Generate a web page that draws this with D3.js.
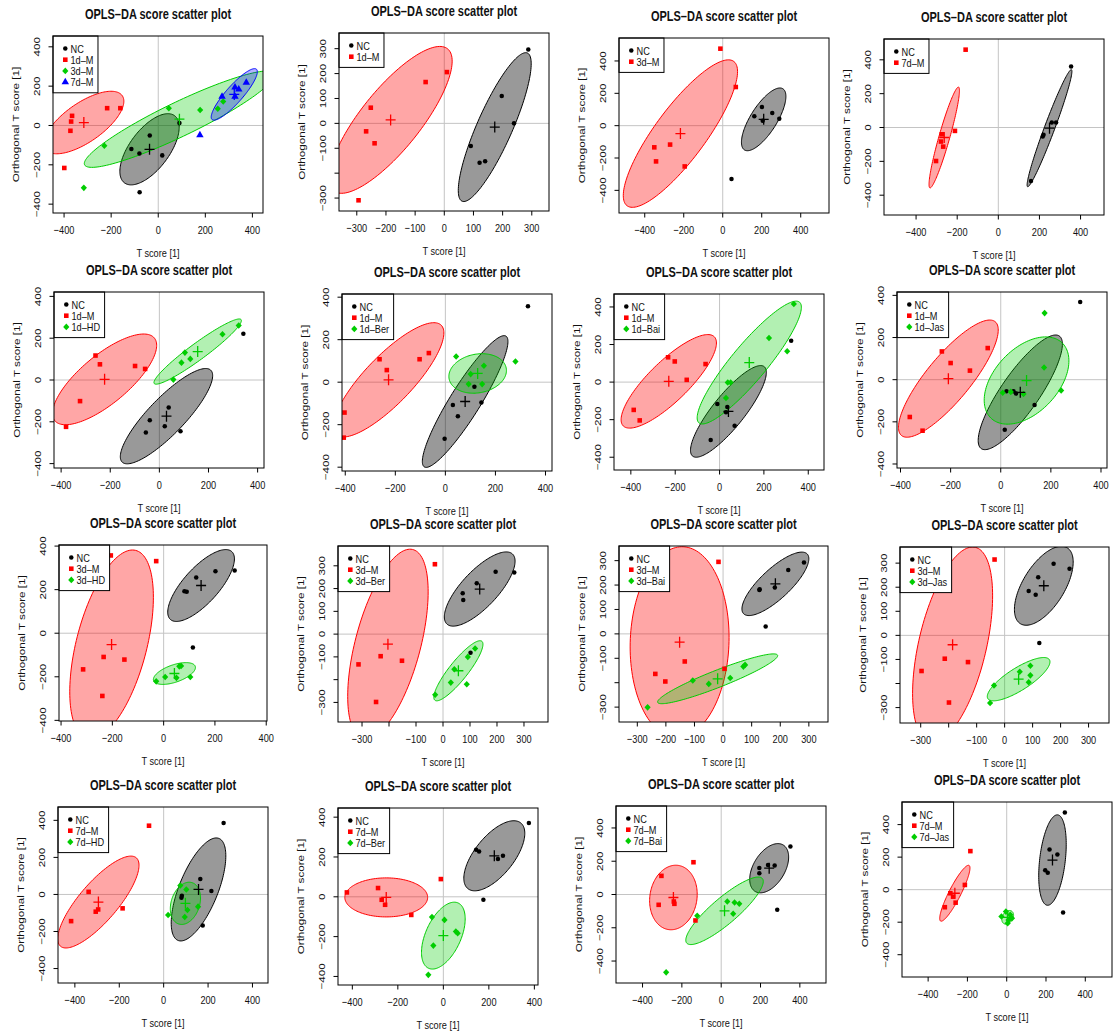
<!DOCTYPE html>
<html><head><meta charset="utf-8">
<script src="https://cdn.jsdelivr.net/npm/d3@7"></script>
<style>body{margin:0;background:#fff;} text{font-family:"Liberation Sans",Arial,Helvetica,sans-serif;}</style>
</head><body><svg id="chart" width="1115" height="1033"></svg>
<script>
// ---------------- DATA ----------------
const chartTitle = "OPLS–DA score scatter plot";
const xAxisTitle = "T score [1]";
const yAxisTitle = "Orthogonal T score [1]";

const groupLabels = [
  ["NC","1d–M","3d–M","7d–M"], ["NC","1d–M"], ["NC","3d–M"], ["NC","7d–M"],
  ["NC","1d–M","1d–HD"], ["NC","1d–M","1d–Ber"], ["NC","1d–M","1d–Bai"], ["NC","1d–M","1d–Jas"],
  ["NC","3d–M","3d–HD"], ["NC","3d–M","3d–Ber"], ["NC","3d–M","3d–Bai"], ["NC","3d–M","3d–Jas"],
  ["NC","7d–M","7d–HD"], ["NC","7d–M","7d–Ber"], ["NC","7d–M","7d–Bai"], ["NC","7d–M","7d–Jas"]
];

const xDomains = [[-447,445],[-361,359],[-532,545],[-556,514],
                  [-429,426],[-413,426],[-476,471],[-414,424],
                  [-408,403],[-389,389],[-364,367],[-374,373],
                  [-476,470],[-463,416],[-535,533],[-533,536]];
const yDomains = [[-445,455],[-352,363],[-540,542],[-517,523],
                  [-421,421],[-418,415],[-468,469],[-419,416],
                  [-403,405],[-386,387],[-361,360],[-364,367],
                  [-478,472],[-443,446],[-532,532],[-537,539]];

const ticks400 = [-400,-200,0,200,400];
const ticks300 = [-300,-200,-100,0,100,200,300];
const ticks300NoM200 = [-300,-100,0,100,200,300];
const xTicks = [ticks400,ticks300,ticks400,ticks400, ticks400,ticks400,ticks400,ticks400,
                ticks400,ticks300,ticks300,ticks300, ticks400,ticks400,ticks400,ticks400];
const yTicks = xTicks;
const xTickLabels = [ticks400,ticks300,ticks400,ticks400, ticks400,ticks400,ticks400,ticks400,
                     ticks400,ticks300NoM200,ticks300,ticks300NoM200, ticks400,ticks400,ticks400,ticks400];
const yTickLabels = [ticks400,ticks300NoM200,ticks400,ticks400, ticks400,ticks400,ticks400,ticks400,
                     ticks400,ticks300NoM200,ticks300NoM200,ticks300NoM200, ticks400,ticks400,ticks400,ticks400];

// score points per panel: NC (black), model (red), treatment (green), extra (blue)
const pointsNC = [
  [[90,12],[-36,-51],[-114,-120],[-80,-142],[17,-152],[-79,-339]],
  [[288,297],[197,110],[239,0],[91,-91],[121,-158],[140,-152]],
  [[162,58],[201,115],[254,78],[290,43],[45,-330],[205,30]],
  [[354,361],[260,30],[281,30],[220,-43],[216,-53],[159,-316]],
  [[342,221],[-39,-192],[38,-131],[22,-221],[-55,-251],[86,-245]],
  [[330,357],[116,-22],[144,-96],[30,-107],[50,-160],[-3,-266]],
  [[323,220],[-10,-116],[35,-133],[29,-160],[68,-233],[-40,-308]],
  [[317,368],[23,-55],[51,-55],[61,-66],[135,-120],[16,-237]],
  [[127,256],[202,285],[277,288],[81,193],[90,190],[114,-66]],
  [[73,179],[75,150],[125,223],[195,274],[264,271],[102,-82]],
  [[283,292],[228,262],[181,190],[128,183],[127,180],[149,30]],
  [[232,277],[175,297],[120,241],[86,184],[111,169],[124,-32]],
  [[270,386],[165,84],[215,18],[82,-7],[80,-18],[176,-167]],
  [[376,371],[144,236],[157,228],[240,190],[262,206],[176,-15]],
  [[352,288],[194,160],[194,128],[238,178],[272,174],[285,-92]],
  [[296,474],[218,247],[258,216],[196,120],[209,104],[287,-141]]
];
const pointsModel = [
  [[-366,49],[-370,20],[-373,-27],[-217,88],[-161,88],[-399,-216]],
  [[9,206],[-64,166],[-252,63],[-268,-32],[-239,-80],[-294,-309]],
  [[-12,476],[67,239],[-351,-134],[-342,-221],[-270,-117],[-195,-252]],
  [[-159,460],[-211,-20],[-275,-40],[-279,-83],[-268,-113],[-303,-198]],
  [[-260,117],[-242,75],[-323,-101],[-99,67],[-58,53],[-380,-224]],
  [[-263,108],[-234,57],[-103,108],[-66,137],[-403,-143],[-406,-261]],
  [[-232,132],[-202,110],[-63,96],[-148,12],[-387,-148],[-360,-204]],
  [[-235,134],[-200,79],[-52,150],[-123,43],[-363,-177],[-312,-242]],
  [[-206,357],[-29,331],[-234,-109],[-314,-166],[-153,-121],[-239,-288]],
  [[-207,340],[-30,307],[-313,-133],[-231,-97],[-152,-117],[-248,-298]],
  [[-246,319],[-16,295],[-134,-113],[-237,-164],[-202,-195],[5,-143]],
  [[-212,324],[-36,315],[-297,-148],[-214,-97],[-131,-111],[-199,-279]],
  [[-66,371],[-338,14],[-295,-81],[-306,-93],[-185,-75],[-417,-144]],
  [[-424,22],[-287,44],[-271,-15],[-256,-40],[-141,-91],[-11,89]],
  [[-141,194],[-304,112],[-318,-62],[-241,-42],[-238,-56],[-131,-156]],
  [[-185,237],[-213,29],[-287,-22],[-273,-43],[-260,-80],[-315,-108]]
];
const pointsTreat = [
  [[45,88],[178,79],[253,85],[276,122],[-229,-103],[-316,-317]],
  null, null, null,
  [[323,261],[257,219],[104,131],[126,101],[90,83],[57,2]],
  [[43,121],[280,97],[154,77],[101,38],[93,-9],[147,-9]],
  [[335,416],[223,235],[305,164],[37,-2],[50,-2],[29,-85]],
  [[175,316],[173,58],[241,-51],[8,-62],[91,-68],[40,-58]],
  [[-29,-221],[6,-201],[50,-205],[61,-152],[68,-150],[104,-201]],
  [[119,-63],[92,-100],[42,-154],[29,-213],[88,-220],[-29,-266]],
  [[77,-127],[71,-134],[25,-181],[-50,-205],[-106,-191],[-264,-301]],
  [[92,-126],[54,-151],[92,-166],[86,-195],[-38,-208],[-52,-281]],
  [[75,48],[102,27],[155,-66],[107,-84],[95,-122],[20,-111]],
  [[-50,-102],[5,-116],[55,-174],[63,-183],[-44,-245],[-66,-392]],
  [[31,-42],[68,-48],[92,-56],[61,-116],[-122,-128],[-280,-468]],
  [[-27,-165],[-4,-135],[9,-186],[27,-176],[18,-155],[5,-206]]
];
const pointsExtra = [
  [[271,147],[326,194],[326,147],[342,184],[374,218],[177,-49]],
  null,null,null,null,null,null,null,null,null,null,null,null,null,null,null
];

// group ellipses: [centre x, centre y, half-width, half-height, tilt correlation]; centre also marks "+"
const ellipseNC = [
  [-37,-121,126,181,0.62],[173,-15,125,299,0.85],[210,39,114,194,0.73],[249,-4,109,346,0.97],
  [29,-173,188,228,0.85],[79,-91,171,310,0.91],[40,-156,171,244,0.85],[78,-60,168,272,0.84],
  [146,219,130,165,0.74],[136,198,131,163,0.75],[183,205,117,130,0.79],[140,206,105,164,0.6],
  [157,27,123,278,0.65],[224,206,134,176,0.64],[244,158,99,148,0.45],[233,182,70,278,0.35]
];
const ellipseModel = [
  [-316,15,170,159,0.68],[-184,14,211,295,0.8],[-217,-49,293,456,0.84],[-263,-59,74,298,0.93],
  [-223,3,212,217,0.75],[-227,11,221,269,0.82],[-229,4,215,249,0.82],[-209,5,199,278,0.83],
  [-203,-52,163,434,0.5],[-204,-44,149,417,0.55],[-152,-34,173,391,0.05],[-186,-39,143,406,0.5],
  [-294,-41,183,248,0.8],[-251,-3,182,98,0.0],[-243,-18,121,194,0.1],[-264,-22,77,172,0.9]
];
const ellipseTreat = [
  [90,32,404,245,0.92],null,null,null,
  [156,136,178,156,0.95],[129,41,115,93,0.15],[134,104,235,327,0.9],[103,-4,169,207,0.45],
  [42,-185,82,50,0.55],[57,-161,91,132,0.88],[-19,-184,210,102,0.93],[50,-182,112,90,0.8],
  [98,-48,68,114,0.25],[0,-195,96,168,0.5],[17,-98,197,203,0.87],[5,-170,30,42,0.3]
];
const ellipseExtra = [[323,158,98,131,0.88],null,null,null,null,null,null,null,null,null,null,null,null,null,null,null];

// ---------------- LAYOUT / STYLE ----------------
const panelBoxes = [ // [left, right, top, bottom] of each plotting region
  [53,263,36,213],[339,549,33,211],[619,829,38,213],[884,1104,39,215],
  [54,264,292,468],[342,552,294,471],[614,824,294,470],[897,1107,292,468],
  [59,267,545,721],[338,548,546,722],[619,828,546,722],[900,1109,547,723],
  [58,268,807,983],[338,538,808,985],[616,826,806,983],[902,1112,802,977]
];
const groupColor = ["#000000","#ff0000","#00cd00","#0000ff"];
const groupFill = ["rgba(0,0,0,0.40)","rgba(255,0,0,0.35)","rgba(0,205,0,0.30)","rgba(0,0,255,0.30)"];
const groupShape = ["circle","square","diamond","triangle"];
const FS = 9.2;     // text size
const SY = 1.27;    // vertical stretch of the original figure's lettering

const svg = d3.select("#chart");
svg.append("rect").attr("width",1115).attr("height",1033).attr("fill","#fff");

function ellipsePts(e){
  const [cx,cy,a,b,r]=e, s=Math.sqrt(1-r*r);
  return d3.range(0,145).map(k=>{const t=k/144*2*Math.PI;
    return [cx+a*Math.cos(t), cy+b*(r*Math.cos(t)+s*Math.sin(t))];});
}
function symbolPath(shape){
  if(shape==="circle") return d3.symbol().type(d3.symbolCircle).size(16)();
  if(shape==="square") return d3.symbol().type(d3.symbolSquare).size(21)();
  if(shape==="triangle") return d3.symbol().type(d3.symbolTriangle).size(24)();
  return "M0,-3.3L3.1,0L0,3.3L-3.1,0Z";
}
function hText(parent, x, y, str, size, anchor){
  return parent.append("text").attr("transform",`translate(${x},${y}) scale(1,${SY})`)
    .attr("text-anchor",anchor||"middle").attr("font-size",size).attr("fill","#111").text(str);
}
function vText(parent, x, y, str, size){
  return parent.append("text").attr("transform",`translate(${x},${y}) scale(1,${SY}) rotate(-90)`)
    .attr("text-anchor","middle").attr("font-size",size).attr("fill","#111").text(str);
}
const fmt = v => String(v).replace("-","\u2212");

groupLabels.forEach((labels,i)=>{
  const [L,R,T,B] = panelBoxes[i];
  const x = d3.scaleLinear().domain(xDomains[i]).range([L,R]);
  const y = d3.scaleLinear().domain(yDomains[i]).range([B,T]);
  const g = svg.append("g");
  const cid = "clip"+i;
  svg.append("clipPath").attr("id",cid).append("rect").attr("x",L).attr("y",T).attr("width",R-L).attr("height",B-T);
  const inner = g.append("g").attr("clip-path",`url(#${cid})`);

  // zero reference lines
  inner.append("line").attr("x1",L).attr("x2",R).attr("y1",y(0)).attr("y2",y(0)).attr("stroke","#c4c4c4").attr("stroke-width",1);
  inner.append("line").attr("x1",x(0)).attr("x2",x(0)).attr("y1",T).attr("y2",B).attr("stroke","#c4c4c4").attr("stroke-width",1);

  const pointSets = [pointsNC[i], pointsModel[i], pointsTreat[i], pointsExtra[i]];
  const ellSets = [ellipseNC[i], ellipseModel[i], ellipseTreat[i], ellipseExtra[i]];
  const line = d3.line().x(d=>x(d[0])).y(d=>y(d[1])).curve(d3.curveLinearClosed);

  ellSets.forEach((e,k)=>{ if(!e) return;
    inner.append("path").attr("d",line(ellipsePts(e))).attr("fill",groupFill[k])
      .attr("stroke",groupColor[k]).attr("stroke-width",1);
  });

  // legend
  const lg = g.append("g");
  const lgRect = lg.append("rect").attr("x",L).attr("y",T).attr("fill","#fff").attr("stroke","#000").attr("stroke-width",1);
  let maxW = 0;
  labels.forEach((lab,k)=>{
    const cy = T+12.5+k*11.2;
    lg.append("path").attr("d",symbolPath(groupShape[k])).attr("transform",`translate(${L+12.3},${cy})`).attr("fill",groupColor[k]);
    const t = hText(lg, L+17.5, cy+4.1, lab, FS, "start");
    maxW = Math.max(maxW, t.node().getComputedTextLength());
  });
  lgRect.attr("width",17.5+maxW+4.5).attr("height",labels.length*11.2+12);

  // points
  pointSets.forEach((pts,k)=>{ if(!pts) return;
    inner.selectAll(null).data(pts).enter().append("path")
      .attr("d",symbolPath(groupShape[k]))
      .attr("transform",d=>`translate(${x(d[0])},${y(d[1])})`)
      .attr("fill",groupColor[k]);
  });
  // centroid crosses
  ellSets.forEach((e,k)=>{ if(!e) return;
    const cx=x(e[0]), cy=y(e[1]);
    inner.append("path").attr("d",`M${cx-5},${cy}H${cx+5}M${cx},${cy-5.5}V${cy+5.5}`)
      .attr("stroke",groupColor[k]).attr("stroke-width",1.3).attr("fill","none");
  });

  // frame
  g.append("rect").attr("x",L).attr("y",T).attr("width",R-L).attr("height",B-T).attr("fill","none").attr("stroke","#000").attr("stroke-width",1);

  // x axis
  const xa = g.append("g");
  xTicks[i].forEach(v=>{
    xa.append("line").attr("x1",x(v)).attr("x2",x(v)).attr("y1",B).attr("y2",B+4.5).attr("stroke","#000");
  });
  xTickLabels[i].forEach(v=> hText(xa, x(v), B+20.8, fmt(v), FS));
  // y axis
  const ya = g.append("g");
  yTicks[i].forEach(v=>{
    ya.append("line").attr("y1",y(v)).attr("y2",y(v)).attr("x1",L).attr("x2",L-4.5).attr("stroke","#000");
  });
  yTickLabels[i].forEach(v=> vText(ya, L-12.7, y(v), fmt(v), FS));
  // titles
  hText(g, (L+R)/2, T-17, chartTitle, 11).attr("font-weight","bold");
  hText(g, (L+R)/2, B+44.2, xAxisTitle, FS);
  vText(g, L-34, (T+B)/2, yAxisTitle, FS);
});
</script></body></html>
